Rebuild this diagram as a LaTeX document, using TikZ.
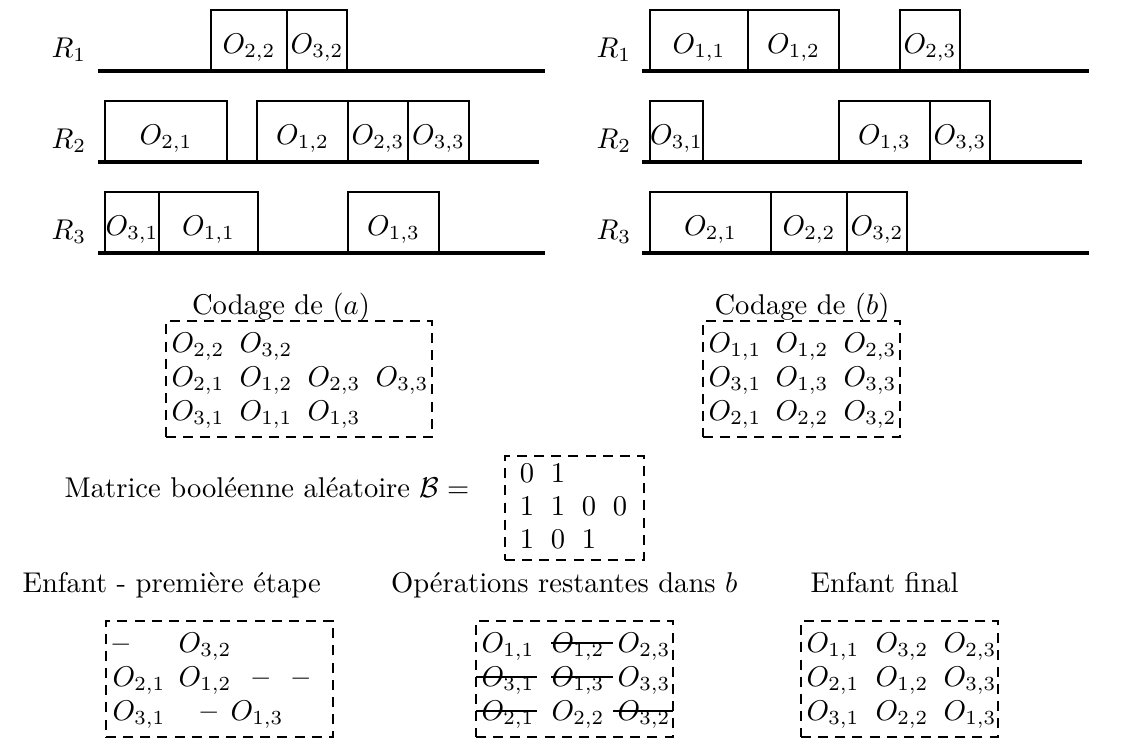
\documentclass[tikz,border=0pt]{standalone}
\begin{document}
\begin{tikzpicture}[x=0.35pt,y=-0.35pt,
  gbase/.style={line width=1.1pt},
  gbox/.style={draw, line width=0.8pt, inner sep=0pt, text height=9pt, text depth=0pt},
  dbox/.style={draw, line width=0.8pt, dash pattern=on 3.5pt off 2.5pt, inner sep=0pt},
  ent/.style={anchor=base west, inner sep=0pt},
  lab/.style={anchor=base west, inner sep=0pt},
  strike/.style={line width=0.9pt}]
\useasboundingbox (0,0) rectangle (1131,747);
\newcommand\gb[6]{\node[gbox, minimum width={(#3-#2)*0.35pt}, minimum height={(#5-#4)*0.35pt}] (#1) at ({(#2+#3)/2},{(#4+#5)/2}) {#6};}
\newcommand\db[5]{\node[dbox, minimum width={(#4-#2)*0.35pt}, minimum height={(#5-#3)*0.35pt}] (#1) at ({(#2+#4)/2},{(#3+#5)/2}) {};}
\newcommand\dsh{\textbf{--}}

% ---------- left schedule (a)
\node[lab] (aR1) at (51,57) {$R_1$};
\node[lab] (aR2) at (51,148) {$R_2$};
\node[lab] (aR3) at (51,239) {$R_3$};
\draw[gbase] (98,71) -- (545,71);
\draw[gbase] (98,162) -- (539,162);
\draw[gbase] (98,253) -- (545,253);
\gb{a22}{211}{287}{10}{71}{$O_{2,2}$}
\gb{a32}{287}{347}{10}{71}{$O_{3,2}$}
\gb{a21}{105}{227}{101}{162}{$O_{2,1}$}
\gb{a12}{257}{348}{101}{162}{$O_{1,2}$}
\gb{a23}{348}{408}{101}{162}{$O_{2,3}$}
\gb{a33}{408}{469}{101}{162}{$O_{3,3}$}
\gb{a31}{105}{159}{192}{253}{$O_{3,1}$}
\gb{a11}{159}{258}{192}{253}{$O_{1,1}$}
\gb{a13}{348}{439}{192}{253}{$O_{1,3}$}

% ---------- right schedule (b)
\node[lab] (bR1) at (596,57) {$R_1$};
\node[lab] (bR2) at (596,148) {$R_2$};
\node[lab] (bR3) at (596,239) {$R_3$};
\draw[gbase] (642,71) -- (1089,71);
\draw[gbase] (642,162) -- (1082,162);
\draw[gbase] (642,253) -- (1089,253);
\gb{b11}{650}{748}{10}{71}{$O_{1,1}$}
\gb{b12}{748}{839}{10}{71}{$O_{1,2}$}
\gb{b23}{900}{960}{10}{71}{$O_{2,3}$}
\gb{b31}{650}{703}{101}{162}{$O_{3,1}$}
\gb{b13}{839}{930}{101}{162}{$O_{1,3}$}
\gb{b33}{930}{990}{101}{162}{$O_{3,3}$}
\gb{b21}{650}{771}{192}{253}{$O_{2,1}$}
\gb{b22}{771}{847}{192}{253}{$O_{2,2}$}
\gb{b32}{847}{907}{192}{253}{$O_{3,2}$}

% ---------- Codage (a)
\node[anchor=base, inner sep=0pt] (ca) at (281,314) {Codage de $(a)$};
\db{codA}{166}{321}{432}{437}
\node[ent] (ca11) at (171,352) {$O_{2,2}$};
\node[ent] (ca12) at (239,352) {$O_{3,2}$};
\node[ent] (ca21) at (171,386) {$O_{2,1}$};
\node[ent] (ca22) at (239,386) {$O_{1,2}$};
\node[ent] (ca23) at (307,386) {$O_{2,3}$};
\node[ent] (ca24) at (375,386) {$O_{3,3}$};
\node[ent] (ca31) at (171,420) {$O_{3,1}$};
\node[ent] (ca32) at (239,420) {$O_{1,1}$};
\node[ent] (ca33) at (307,420) {$O_{1,3}$};

% ---------- Codage (b)
\node[anchor=base, inner sep=0pt] (cb) at (802,314) {Codage de $(b)$};
\db{codB}{703}{321}{900}{437}
\node[ent] (cb11) at (708,352) {$O_{1,1}$};
\node[ent] (cb12) at (775,352) {$O_{1,2}$};
\node[ent] (cb13) at (843,352) {$O_{2,3}$};
\node[ent] (cb21) at (708,386) {$O_{3,1}$};
\node[ent] (cb22) at (775,386) {$O_{1,3}$};
\node[ent] (cb23) at (843,386) {$O_{3,3}$};
\node[ent] (cb31) at (708,420) {$O_{2,1}$};
\node[ent] (cb32) at (775,420) {$O_{2,2}$};
\node[ent] (cb33) at (843,420) {$O_{3,2}$};

% ---------- random boolean matrix
\node[anchor=base east, inner sep=0pt] (mt) at (470,497) {Matrice booléenne aléatoire $\mathcal{B} =$};
\db{mB}{505}{456}{644}{560}
\node[anchor=base, inner sep=0pt] (m11) at (527,482) {0};
\node[anchor=base, inner sep=0pt] (m12) at (558,482) {1};
\node[anchor=base, inner sep=0pt] (m21) at (527,515) {1};
\node[anchor=base, inner sep=0pt] (m22) at (558,515) {1};
\node[anchor=base, inner sep=0pt] (m23) at (589,515) {0};
\node[anchor=base, inner sep=0pt] (m24) at (620,515) {0};
\node[anchor=base, inner sep=0pt] (m31) at (527,548) {1};
\node[anchor=base, inner sep=0pt] (m32) at (558,548) {0};
\node[anchor=base, inner sep=0pt] (m33) at (589,548) {1};

% ---------- bottom labels
\node[lab] (l1) at (22,592) {Enfant - première étape};
\node[anchor=base east, inner sep=0pt] (l2) at (738,592) {Opérations restantes dans $b$};
\node[lab] (l3) at (810,592) {Enfant final};

% ---------- child, first step
\db{e1}{106}{621}{333}{737}
\node[ent] (e111) at (112,652) {\dsh};
\node[ent] (e112) at (178,652) {$O_{3,2}$};
\node[ent] (e121) at (112,686) {$O_{2,1}$};
\node[ent] (e122) at (178,686) {$O_{1,2}$};
\node[ent] (e123) at (252,686) {\dsh};
\node[ent] (e124) at (292,686) {\dsh};
\node[ent] (e131) at (112,720) {$O_{3,1}$};
\node[ent] (e132) at (200,720) {\dsh};
\node[ent] (e133) at (230,720) {$O_{1,3}$};

% ---------- remaining operations in b
\db{e2}{476}{621}{673}{737}
\node[ent] (e211) at (481,652) {$O_{1,1}$};
\node[ent] (e212) at (551,652) {$O_{1,2}$};
\node[ent] (e213) at (617,652) {$O_{2,3}$};
\node[ent] (e221) at (481,686) {$O_{3,1}$};
\node[ent] (e222) at (551,686) {$O_{1,3}$};
\node[ent] (e223) at (617,686) {$O_{3,3}$};
\node[ent] (e231) at (481,720) {$O_{2,1}$};
\node[ent] (e232) at (551,720) {$O_{2,2}$};
\node[ent] (e233) at (617,720) {$O_{3,2}$};
\draw[strike] (551,643) -- (613,643);
\draw[strike] (476,677) -- (537,677);
\draw[strike] (551,677) -- (613,677);
\draw[strike] (476,711) -- (537,711);
\draw[strike] (613,711) -- (673,711);

% ---------- final child
\db{e3}{801}{621}{998}{737}
\node[ent] (e311) at (806,652) {$O_{1,1}$};
\node[ent] (e312) at (875,652) {$O_{3,2}$};
\node[ent] (e313) at (943,652) {$O_{2,3}$};
\node[ent] (e321) at (806,686) {$O_{2,1}$};
\node[ent] (e322) at (875,686) {$O_{1,2}$};
\node[ent] (e323) at (943,686) {$O_{3,3}$};
\node[ent] (e331) at (806,720) {$O_{3,1}$};
\node[ent] (e332) at (875,720) {$O_{2,2}$};
\node[ent] (e333) at (943,720) {$O_{1,3}$};
\end{tikzpicture}
\end{document}
